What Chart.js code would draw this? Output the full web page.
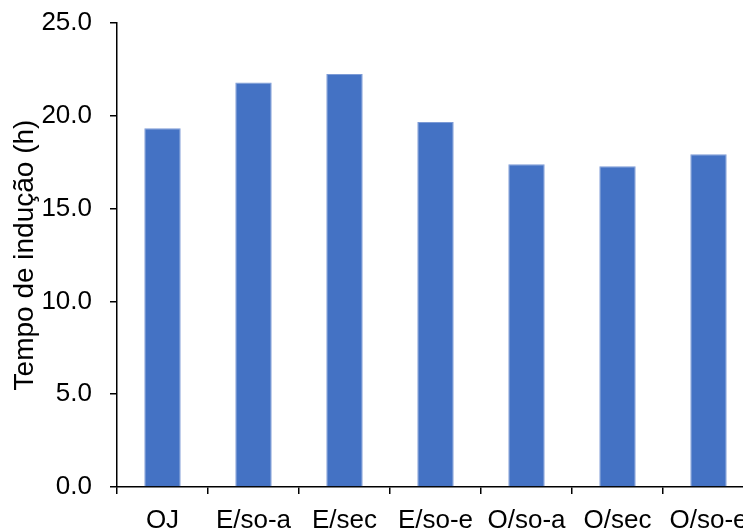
<!DOCTYPE html>
<html>
<head>
<meta charset="utf-8">
<script src="https://cdn.jsdelivr.net/npm/chart.js@4/dist/chart.umd.min.js"></script>
<style>
  html, body { margin: 0; padding: 0; background: #fff; overflow: hidden; }
  #wrap { position: relative; width: 770px; height: 532px; }
</style>
</head>
<body>
<div id="wrap"><canvas id="c"></canvas></div>
<script>
// Induction time per sample
const categories = ['OJ', 'E/so-a', 'E/sec', 'E/so-e', 'O/so-a', 'O/sec', 'O/so-e'];
const inductionHours = [19.33, 21.80, 22.25, 19.67, 17.39, 17.28, 17.93];
const yTicks = [0, 5, 10, 15, 20, 25];

const FONT = 'Liberation Sans, Arial, sans-serif';

new Chart(document.getElementById('c'), {
  type: 'bar',
  data: {
    labels: categories,
    datasets: [{
      data: inductionHours,
      backgroundColor: '#4472C4',
      borderColor: '#7d9bd6',
      borderWidth: 1,
      barPercentage: 0.4,
      categoryPercentage: 1.0
    }]
  },
  options: {
    responsive: true,
    maintainAspectRatio: false,
    animation: false,
    layout: { padding: { top: 23, right: 16, left: 0, bottom: 0 } },
    plugins: { legend: { display: false }, tooltip: { enabled: false } },
    scales: {
      x: {
        grid: { display: true, drawOnChartArea: false, drawTicks: true, tickLength: 7, color: '#000', lineWidth: 1.5, offset: true },
        border: { display: true, color: '#000', width: 1.5 },
        ticks: { color: '#000', font: { family: FONT, size: 26 }, padding: 11, maxRotation: 0, autoSkip: false },
        afterFit: s => { s.height = 45; s.paddingLeft = 0; s.paddingRight = 0; }
      },
      y: {
        min: 0, max: 25,
        afterBuildTicks: s => { s.ticks = yTicks.map(v => ({ value: v })); },
        grid: { display: true, drawOnChartArea: false, drawTicks: true, tickLength: 7, color: '#000', lineWidth: 1.5 },
        border: { display: true, color: '#000', width: 1.5 },
        ticks: { color: '#000', font: { family: FONT, size: 26 }, padding: 18, callback: v => Number(v).toFixed(1) },
        title: { display: true, text: 'Tempo de indução (h)', color: '#000', font: { family: FONT, size: 28 }, padding: { top: 8, bottom: 0 } },
        afterFit: s => { s.width = 117; s.paddingTop = 0; s.paddingBottom = 0; }
      }
    }
  }
});
</script>
</body>
</html>
